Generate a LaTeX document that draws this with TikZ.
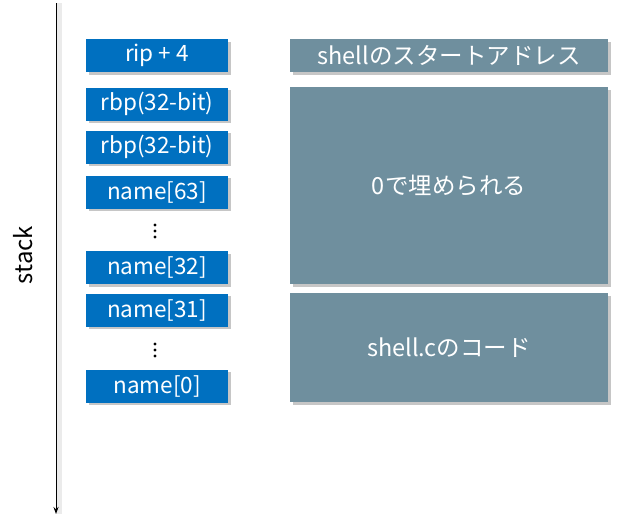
\documentclass[tikz,border=0pt]{standalone}
\usepackage{fontspec}
\setmainfont{Noto Sans CJK JP}
\usetikzlibrary{shadows,arrows.meta}
\definecolor{stackblue}{HTML}{0070C0}
\definecolor{slategray}{HTML}{6F8F9E}
\begin{document}
\begin{tikzpicture}[x=1pt,y=-1pt,
  cell/.style={fill=stackblue, text=white, minimum width=142pt, minimum height=33pt, inner sep=0pt,
    font=\fontsize{22.5}{24}\selectfont, drop shadow={shadow xshift=2.5pt, shadow yshift=-2.5pt, opacity=0.45}},
  region/.style={fill=slategray, text=white, minimum width=318pt, inner sep=0pt,
    font=\fontsize{23.5}{26}\selectfont, drop shadow={shadow xshift=2.5pt, shadow yshift=-2.5pt, opacity=0.45}},
  dotmark/.style={circle, fill=black, inner sep=0pt, minimum size=3.3pt}]
\useasboundingbox (0,0) rectangle (617,530);
% stack axis
\coordinate (top) at (56,3);
\coordinate (bottom) at (56,514);
\draw[line width=6pt, black!8] ([xshift=3pt]top) -- ([xshift=3pt]bottom);
\draw[line width=0.9pt, -{Stealth[length=7pt,width=5pt]}] (top) -- (bottom);
\node[rotate=90, font=\fontsize{24}{26}\selectfont] (stacklbl) at (23,255) {stack};
% left cells
\node[cell] (rip) at (157,55.5) {rip + 4};
\node[cell] (rbpa) at (157,104) {rbp(32-bit)};
\node[cell] (rbpb) at (157,147) {rbp(32-bit)};
\node[cell] (n63) at (157,192) {name[63]};
\foreach \yy [count=\i] in {225,231,237} {\node[dotmark] (da\i) at (155,\yy) {};}
\node[cell] (n32) at (157,267.5) {name[32]};
\node[cell] (n31) at (157,310) {name[31]};
\foreach \yy [count=\i] in {344,350,356} {\node[dotmark] (db\i) at (155,\yy) {};}
\node[cell] (n0) at (157,386) {name[0]};
% right regions
\node[region, minimum height=33pt] (addr) at (449,55.5) {shellのスタートアドレス};
\node[region, minimum height=197pt] (zero) at (449,185.5) {0で埋められる};
\node[region, minimum height=109pt] (code) at (449,347.5) {shell.cのコード};
\end{tikzpicture}
\end{document}
